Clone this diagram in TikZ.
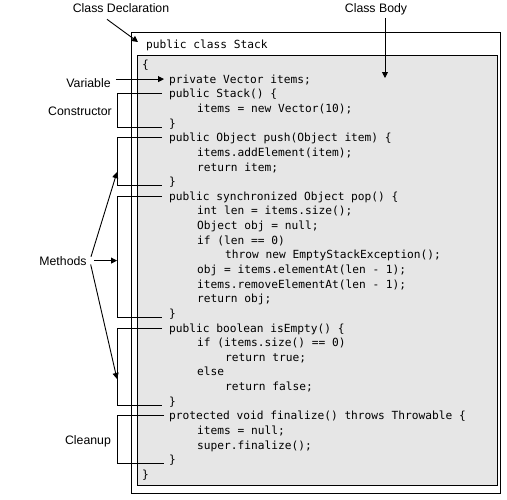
\documentclass[tikz,border=0pt]{standalone}
\usepackage{fontspec}
\setmainfont{Liberation Sans}
\newfontfamily\codefont{DejaVu Sans Mono}
\usepackage{tikz}
\usetikzlibrary{arrows.meta, calc}
\definecolor{cbody}{HTML}{E6E6E6}
\tikzset{
  lbl/.style={font=\fontsize{12.3}{14}\selectfont, inner sep=3pt, anchor=base},
  code/.style={font=\codefont\fontsize{11.2}{13}\selectfont, inner sep=0pt,
               text height=8pt, text depth=0pt, anchor=base west},
  arr/.style={-{Triangle[length=6pt,width=6pt]}, line width=0.9pt},
  brk/.style={line width=0.9pt},
}
\begin{document}
\begin{tikzpicture}[x=1pt, y=-1pt]
  \useasboundingbox (0,0) rectangle (507,499);

  %% the two boxes
  \draw[line width=0.9pt, fill=white] (131.5,32.5) rectangle (500.5,493.5);
  \draw[line width=0.9pt, fill=cbody] (137.5,55.5) rectangle (497.5,485.5);

  %% class declaration
  \node[code] (decl0) at (146,48) {public class Stack};

  %% class body
  \node[code] (l1)  at (142,68.5)  {\{};
  \node[code] (l2)  at (169,83.1)  {private Vector items;};
  \node[code] (l3)  at (169,97.8)  {public Stack() \{};
  \node[code] (l4)  at (197,112.4) {items = new Vector(10);};
  \node[code] (l5)  at (169,127.1) {\}};
  \node[code] (l6)  at (169,141.7) {public Object push(Object item) \{};
  \node[code] (l7)  at (197,156.3) {items.addElement(item);};
  \node[code] (l8)  at (197,171.0) {return item;};
  \node[code] (l9)  at (169,185.6) {\}};
  \node[code] (l10) at (169,200.3) {public synchronized Object pop() \{};
  \node[code] (l11) at (197,214.9) {int len = items.size();};
  \node[code] (l12) at (197,229.5) {Object obj = null;};
  \node[code] (l13) at (197,244.2) {if (len == 0)};
  \node[code] (l14) at (225,258.8) {throw new EmptyStackException();};
  \node[code] (l15) at (197,273.5) {obj = items.elementAt(len - 1);};
  \node[code] (l16) at (197,288.1) {items.removeElementAt(len - 1);};
  \node[code] (l17) at (197,302.7) {return obj;};
  \node[code] (l18) at (169,317.4) {\}};
  \node[code] (l19) at (169,332.0) {public boolean isEmpty() \{};
  \node[code] (l20) at (197,346.7) {if (items.size() == 0)};
  \node[code] (l21) at (225,361.3) {return true;};
  \node[code] (l22) at (197,375.9) {else};
  \node[code] (l23) at (225,390.6) {return false;};
  \node[code] (l24) at (169,405.2) {\}};
  \node[code] (l25) at (169,419.9) {protected void finalize() throws Throwable \{};
  \node[code] (l26) at (197,434.5) {items = null;};
  \node[code] (l27) at (197,449.1) {super.finalize();};
  \node[code] (l28) at (169,463.8) {\}};
  \node[code] (l29) at (142,478.4) {\}};

  %% labels
  \node[lbl] (decl) at (121,12)  {Class Declaration};
  \node[lbl] (body) at (376,12)  {Class Body};
  \node[lbl] (var)  at (88.5,87) {Variable};
  \node[lbl] (cons) at (80,115)  {Constructor};
  \node[lbl] (meth) at (63,265)  {Methods};
  \node[lbl] (clean) at (88,444) {Cleanup};

  \coordinate (decltip) at (138,42);
  \coordinate (bodytip) at (385,78);

  %% brackets
  \draw[brk] ([xshift=-7]l3.west) -- ++(-45,0) |- ([xshift=-7]l5.base west);
  \draw[brk] ([xshift=-7]l6.west) -- ++(-45,0) |- ([xshift=-7]l9.base west)
    coordinate[pos=0.36] (pushv);
  \draw[brk] ([xshift=-7]l10.west) -- ++(-45,0) |- ([xshift=-7]l18.base west)
    coordinate[pos=0.25] (popv);
  \draw[brk] ([xshift=-7]l19.west) -- ++(-45,0) |- ([xshift=-7]l24.base west)
    coordinate[pos=0.33] (emptyv);
  \draw[brk] ([xshift=-5]l25.west) -- ++(-47,0) |- ([xshift=-5]l28.base west);

  %% arrows
  \draw[arr] ([xshift=-14,yshift=-4]decl.south) -- (decltip);
  \draw[arr] ([xshift=9]body.south) -- (bodytip);
  \draw[arr, shorten <=2pt] (var.east |- l2.west) -- ([xshift=-5]l2.west);
  \draw[arr, shorten <=4pt] (meth.east) -- (pushv);
  \draw[arr, shorten <=4pt] (meth.east) -- (popv |- meth.east);
  \draw[arr, shorten <=4pt] (meth.east) -- (emptyv);

\end{tikzpicture}
\end{document}
